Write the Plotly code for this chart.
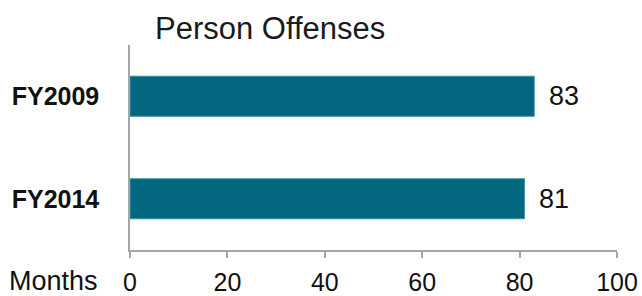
import plotly.graph_objects as go

categories = ["FY2009", "FY2014"]
values = [83, 81]
x_ticks = [0, 20, 40, 60, 80, 100]
title_text = "Person Offenses"
axis_label = "Months"

W, H = 642, 296

fig = go.Figure()
fig.add_trace(go.Bar(
    x=values,
    y=categories,
    orientation="h",
    width=0.39,
    marker=dict(color="#03687F", line=dict(color="#3a8fa0", width=1)),
    hoverinfo="skip",
))

annotations = [dict(
    x=v, y=c, xref="x", yref="y", text=str(v), xanchor="left", yanchor="middle",
    xshift=13, showarrow=False,
    font=dict(family="Liberation Sans", size=27, color="#111111"),
) for c, v in zip(categories, values)]

annotations.append(dict(
    text=axis_label, xref="paper", yref="paper", x=0, y=0, xshift=-30, yshift=-31,
    xanchor="right", yanchor="middle", showarrow=False,
    font=dict(family="Liberation Sans", size=27, color="#111111"),
))

fig.update_layout(
    width=W, height=H,
    margin=dict(l=130, r=25, t=45, b=46, autoexpand=False),
    paper_bgcolor="white", plot_bgcolor="white",
    showlegend=False,
    font=dict(family="Liberation Sans", color="#111111"),
    title=dict(text=title_text, x=155/W, xanchor="left", y=1 - 28/H, yanchor="middle",
               font=dict(family="Liberation Sans", size=31, color="#1a1a1a")),
    xaxis=dict(
        range=[0, 100], tickvals=x_ticks, showgrid=False, zeroline=False,
        showline=True, linecolor="#a6a6a6", linewidth=1.5,
        ticks="outside", ticklen=6, tickcolor="#a6a6a6", tickwidth=1.5,
        ticklabelstandoff=3,
        tickfont=dict(family="Liberation Sans", size=25, color="#111111"),
        automargin=False, fixedrange=True,
    ),
    yaxis=dict(
        categoryorder="array", categoryarray=categories, autorange="reversed",
        showgrid=False, zeroline=False,
        showline=True, linecolor="#a6a6a6", linewidth=1.5,
        ticks="", ticklabelstandoff=24,
        tickfont=dict(family="Liberation Sans", size=25, color="#111111", weight="bold"),
        automargin=False, fixedrange=True,
    ),
    annotations=annotations,
)

fig.write_html(
    "out.html",
    config={"displayModeBar": False},
    post_script="document.body.style.margin='0';document.body.style.overflow='hidden';",
)
